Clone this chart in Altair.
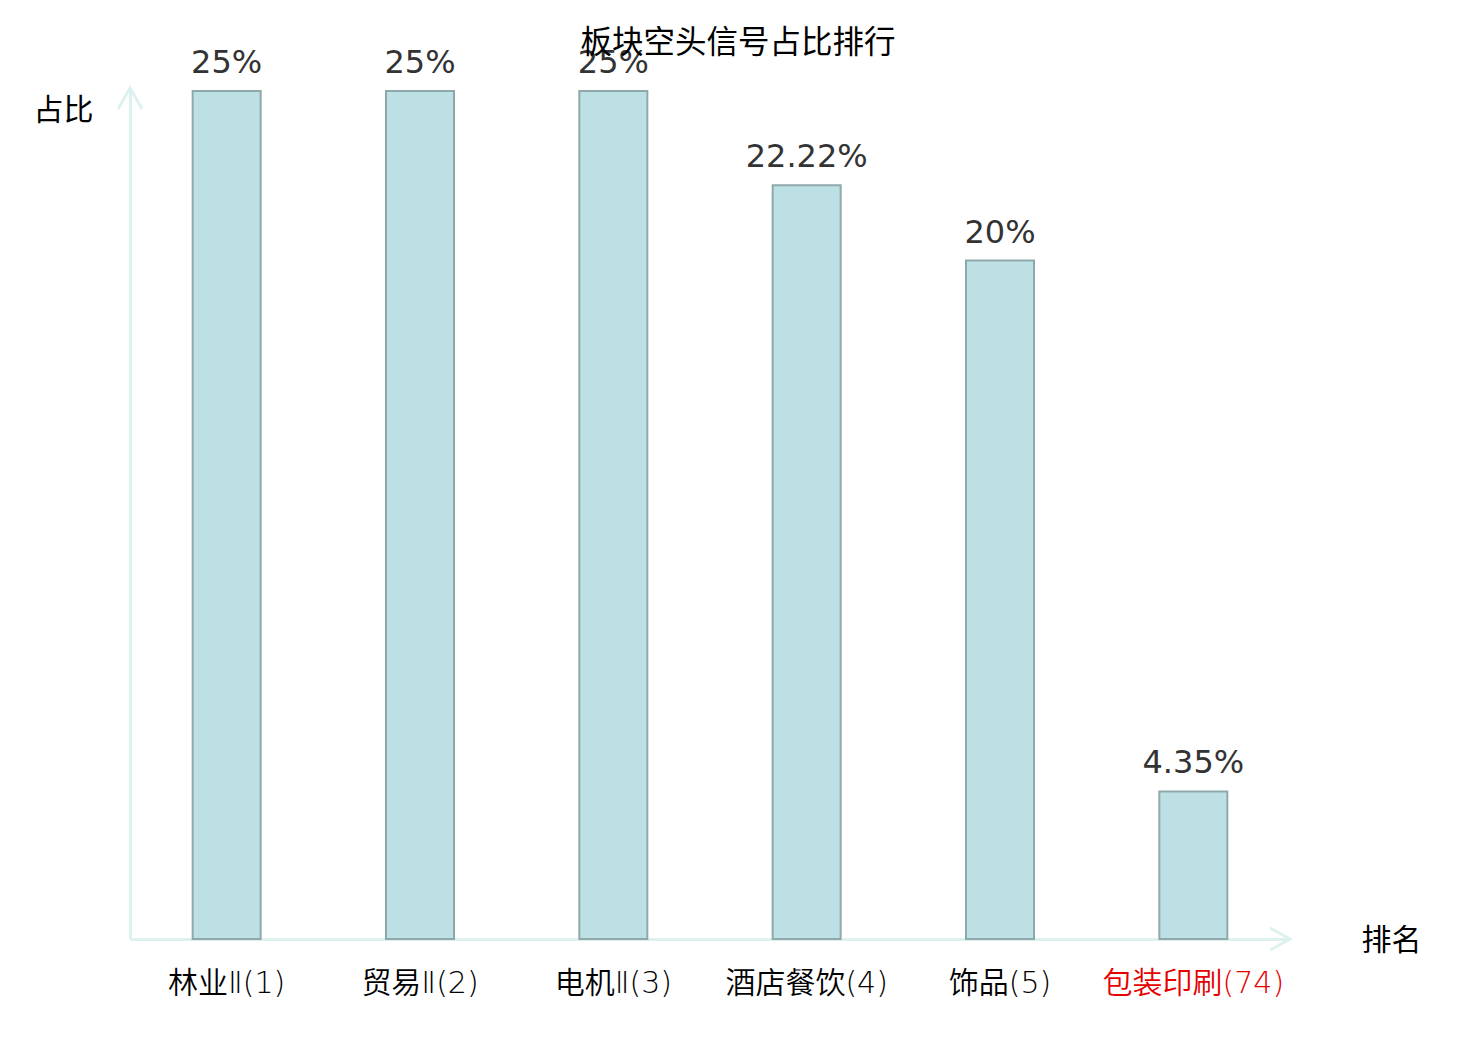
import altair as alt
import pandas as pd

categories = ["林业Ⅱ(1)", "贸易Ⅱ(2)", "电机Ⅱ(3)", "酒店餐饮(4)", "饰品(5)", "包装印刷(74)"]
values = [25, 25, 25, 22.22, 20, 4.35]
highlight = "包装印刷(74)"

df = pd.DataFrame({"cat": categories, "v": values})

CJK = "Noto Sans CJK SC"
LABEL_FONT = "'DejaVu Sans', 'Noto Sans CJK SC'"
AXIS_COLOR = "#ddf2ee"

x_enc = alt.X(
    "cat:N",
    sort=categories,
    scale=alt.Scale(paddingInner=0, paddingOuter=0),
    axis=alt.Axis(
        title="排名",
        titleX=1261, titleY=1, titleAlign="center", titleBaseline="middle",
        titleFont=CJK, titleFontSize=30, titleFontWeight="normal", titleColor="#000",
        titleAngle=0,
        labelFont=LABEL_FONT, labelFontSize=30, labelFontWeight={"expr": "350"}, labelAngle=0,
        labelColor={"expr": f"datum.value == '{highlight}' ? '#e60000' : '#000000'"},
        labelPadding=44, labelBaseline="middle", labelLimit=500,
        ticks=False, tickSize=0, grid=False,
        domainColor=AXIS_COLOR, domainWidth=3,
    ),
)
y_enc = alt.Y(
    "v:Q",
    scale=alt.Scale(domain=[0, 25], nice=False, zero=True),
    axis=alt.Axis(
        title="占比",
        titleX=-67, titleY=19, titleAlign="center", titleBaseline="middle",
        titleAngle=0,
        titleFont=CJK, titleFontSize=30, titleFontWeight="normal", titleColor="#000",
        labels=False, ticks=False, tickSize=0, grid=False,
        domainColor=AXIS_COLOR, domainWidth=3,
    ),
)

bars = alt.Chart(df).mark_bar(
    size=68, fill="#bce0e3", stroke="#8fa9aa", strokeWidth=2
).encode(x=x_enc, y=y_enc)

labels = alt.Chart(df).transform_calculate(
    lbl="datum.v + '%'"
).mark_text(
    font="DejaVu Sans", fontSize=32, color="#333333",
    baseline="alphabetic", align="center", dy=-18
).encode(x=alt.X("cat:N", sort=categories), y="v:Q", text="lbl:N")

one = pd.DataFrame({"a": [0]})
arrow_up = alt.Chart(one).mark_point(
    shape="M -1 1.75 L 0 0 L 1 1.75", size=576, filled=False,
    stroke=AXIS_COLOR, strokeWidth=3, opacity=1
).encode(x=alt.value(0), y=alt.value(-3))
arrow_right = alt.Chart(one).mark_point(
    shape="M -1.8 -1 L 0 0 L -1.8 1", size=484, filled=False,
    stroke=AXIS_COLOR, strokeWidth=3, opacity=1
).encode(x=alt.value(1160), y=alt.value(848))

chart = alt.layer(bars, labels, arrow_up, arrow_right).properties(
    width=1160,
    height=848,
    title=alt.TitleParams(
        "板块空头信号占比排行", font=CJK, fontSize=31.5, fontWeight="normal",
        color="#000", anchor="middle", baseline="middle", offset=-28, dx=28,
    ),
    autosize=alt.AutoSizeParams(type="none"),
    padding={"left": 122, "top": 83, "right": 180, "bottom": 90},
    background="white",
).configure_view(strokeWidth=0)

chart.save("out.html", embed_options={"renderer": "svg", "actions": False})
